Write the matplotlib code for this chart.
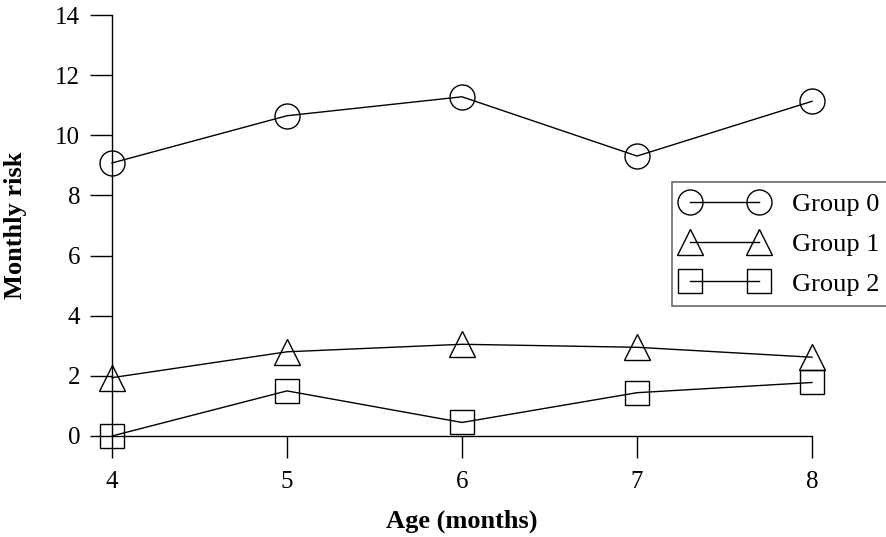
import matplotlib
matplotlib.use("Agg")
import matplotlib.pyplot as plt

ages = [4, 5, 6, 7, 8]
group0 = [9.08, 10.65, 11.28, 9.31, 11.13]
group1 = [1.94, 2.80, 3.05, 2.95, 2.62]
group2 = [0.0, 1.50, 0.45, 1.44, 1.78]
labels = ["Group 0", "Group 1", "Group 2"]
yticks = [0, 2, 4, 6, 8, 10, 12, 14]

plt.rcParams['font.family'] = ['Liberation Serif', 'DejaVu Serif']

W, H = 887, 537
fig = plt.figure(figsize=(W / 100, H / 100), dpi=100)
ax = fig.add_axes([112 / W, (H - 436) / H, 700 / W, 421 / H])

style = dict(color='black', linewidth=1.0, markerfacecolor='none',
             markeredgecolor='black', markeredgewidth=1.0, clip_on=False)
ax.plot(ages, group0, marker='o', markersize=18, label=labels[0], **style)
ax.plot(ages, group1, marker='^', markersize=19, label=labels[1], **style)
ax.plot(ages, group2, marker='s', markersize=17, label=labels[2], **style)

ax.set_xlim(4, 8)
ax.set_ylim(0, 14)
ax.set_xticks(ages)
ax.set_yticks(yticks)
for s in ['top', 'right']:
    ax.spines[s].set_visible(False)
for s in ['left', 'bottom']:
    ax.spines[s].set_linewidth(1.0)
ax.tick_params(axis='both', direction='out', length=16, width=1.0,
               labelsize=18)
ax.tick_params(axis='x', pad=9)
ax.tick_params(axis='y', pad=7)

ax.set_xlabel("Age (months)", fontsize=19, fontweight='bold', labelpad=12)
ax.set_ylabel("Monthly risk", fontsize=19, fontweight='bold', labelpad=20)

leg = ax.legend(loc='upper left', bbox_to_anchor=(672 / W, 1 - 182 / H),
                bbox_transform=fig.transFigure, numpoints=2, fontsize=19,
                frameon=True, fancybox=False, edgecolor='#444444',
                handlelength=3.2, borderpad=0.4, labelspacing=0.62,
                handletextpad=0.95, borderaxespad=0)
leg.get_frame().set_linewidth(1.2)

fig.savefig("out.png", dpi=100)
